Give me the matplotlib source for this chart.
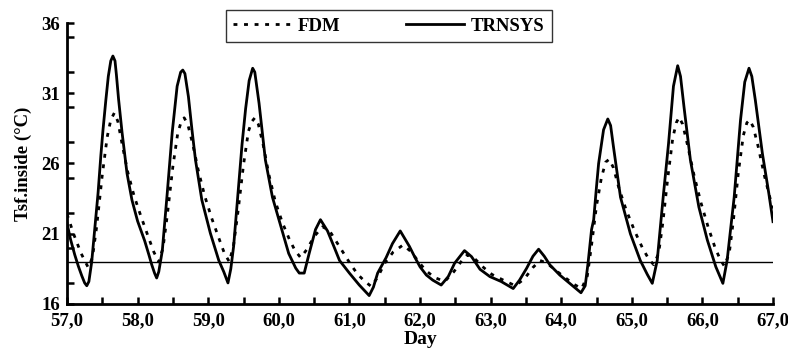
import matplotlib
matplotlib.use("Agg")
import matplotlib.pyplot as plt
from matplotlib.ticker import MultipleLocator

plt.rcParams['font.family'] = ['Liberation Serif', 'DejaVu Serif']
plt.rcParams['font.weight'] = 'bold'

# TRNSYS (solid) series
trn_day = [57.00, 57.05, 57.11, 57.16, 57.21, 57.25, 57.28, 57.31, 57.35, 57.40, 57.44, 57.48, 57.51, 57.55, 57.585, 57.62, 57.65, 57.68, 57.70, 57.73, 57.78, 57.85, 57.92, 58.00, 58.10, 58.16, 58.20, 58.24, 58.27, 58.30, 58.35, 58.42, 58.49, 58.56, 58.61, 58.64, 58.67, 58.72, 58.77, 58.82, 58.91, 59.03, 59.15, 59.22, 59.28, 59.32, 59.36, 59.43, 59.48, 59.53, 59.58, 59.63, 59.66, 59.72, 59.81, 59.91, 60.03, 60.14, 60.24, 60.29, 60.36, 60.43, 60.52, 60.59, 60.69, 60.78, 60.86, 61.00, 61.14, 61.28, 61.34, 61.40, 61.52, 61.61, 61.72, 61.85, 61.93, 62.00, 62.09, 62.18, 62.30, 62.40, 62.49, 62.63, 62.73, 62.85, 62.99, 63.15, 63.32, 63.41, 63.51, 63.60, 63.68, 63.76, 63.84, 63.98, 64.12, 64.28, 64.34, 64.38, 64.43, 64.46, 64.50, 64.53, 64.60, 64.66, 64.70, 64.74, 64.84, 64.98, 65.12, 65.22, 65.29, 65.36, 65.45, 65.52, 65.59, 65.65, 65.69, 65.74, 65.83, 65.95, 66.07, 66.19, 66.29, 66.35, 66.45, 66.54, 66.60, 66.66, 66.70, 66.75, 66.85, 66.94, 67.00]
trn_temp = [21.75, 20.6, 19.5, 18.7, 18.0, 17.5, 17.3, 17.6, 19.0, 21.7, 23.9, 26.6, 28.4, 30.5, 32.2, 33.3, 33.65, 33.3, 32.3, 30.6, 28.2, 25.3, 23.4, 21.9, 20.5, 19.5, 18.8, 18.2, 17.85, 18.3, 19.8, 23.9, 28.2, 31.5, 32.5, 32.65, 32.4, 30.75, 28.4, 26.25, 23.4, 21.05, 19.1, 18.3, 17.5, 18.5, 20.1, 24.4, 27.4, 29.9, 31.9, 32.78, 32.5, 30.3, 26.25, 23.6, 21.5, 19.6, 18.55, 18.2, 18.2, 19.6, 21.3, 22.0, 21.2, 20.1, 19.1, 18.2, 17.35, 16.6, 17.2, 18.2, 19.3, 20.3, 21.2, 20.1, 19.3, 18.65, 18.06, 17.7, 17.35, 17.95, 18.9, 19.8, 19.37, 18.47, 17.95, 17.6, 17.1, 17.7, 18.54, 19.4, 19.9, 19.4, 18.78, 18.06, 17.47, 16.8, 17.3, 18.9, 21.3, 22.0, 24.35, 26.0, 28.4, 29.17, 28.7, 27.2, 23.6, 21.0, 19.1, 18.1, 17.47, 19.1, 23.9, 27.4, 31.5, 32.96, 32.2, 30.0, 26.25, 22.9, 20.55, 18.65, 17.47, 19.1, 23.6, 29.1, 31.8, 32.78, 32.2, 30.5, 26.7, 23.9, 21.86]

# FDM (dotted) series
fdm_day = [57.00, 57.10, 57.20, 57.30, 57.36, 57.42, 57.50, 57.57, 57.62, 57.67, 57.72, 57.78, 57.86, 57.95, 58.05, 58.15, 58.23, 58.30, 58.36, 58.42, 58.50, 58.57, 58.62, 58.66, 58.71, 58.78, 58.86, 58.95, 59.05, 59.15, 59.23, 59.30, 59.36, 59.42, 59.50, 59.57, 59.62, 59.66, 59.71, 59.78, 59.86, 59.95, 60.05, 60.15, 60.23, 60.31, 60.40, 60.50, 60.62, 60.72, 60.82, 60.92, 61.02, 61.12, 61.22, 61.31, 61.40, 61.50, 61.62, 61.76, 61.88, 61.98, 62.08, 62.20, 62.35, 62.48, 62.58, 62.67, 62.78, 62.90, 63.02, 63.18, 63.35, 63.48, 63.60, 63.70, 63.80, 63.92, 64.05, 64.18, 64.29, 64.37, 64.43, 64.50, 64.57, 64.63, 64.68, 64.74, 64.82, 64.92, 65.04, 65.15, 65.24, 65.31, 65.38, 65.44, 65.51, 65.58, 65.63, 65.67, 65.72, 65.79, 65.88, 65.98, 66.08, 66.18, 66.25, 66.31, 66.38, 66.44, 66.51, 66.58, 66.63, 66.67, 66.72, 66.79, 66.88, 66.96, 67.00]
fdm_temp = [22.4, 20.9, 19.6, 18.6, 19.3, 21.5, 25.2, 27.9, 29.1, 29.6, 29.0, 27.4, 25.4, 23.7, 22.2, 20.8, 19.7, 19.0, 20.0, 22.3, 25.8, 28.2, 29.0, 29.25, 28.8, 27.4, 25.5, 23.7, 22.1, 20.7, 19.6, 19.0, 20.2, 22.5, 25.9, 28.3, 29.0, 29.25, 28.8, 27.3, 25.2, 23.3, 21.8, 20.6, 19.8, 19.3, 19.9, 20.8, 21.5, 21.2, 20.4, 19.6, 18.8, 18.1, 17.6, 17.25, 17.9, 18.9, 19.7, 20.2, 19.7, 19.0, 18.4, 17.9, 17.6, 18.3, 19.0, 19.5, 19.2, 18.6, 18.1, 17.7, 17.3, 17.8, 18.6, 19.1, 18.9, 18.4, 17.9, 17.4, 17.1, 18.0, 20.2, 23.0, 25.0, 26.1, 26.3, 25.7, 24.2, 22.7, 21.2, 20.0, 19.2, 18.8, 19.6, 21.8, 25.0, 27.8, 28.9, 29.3, 28.8, 27.3, 25.2, 23.2, 21.5, 20.0, 19.2, 18.7, 19.6, 22.0, 25.4, 28.0, 28.9, 29.1, 28.6, 27.2, 25.1, 23.5, 22.8]

ref_temp = 19.0

x_ticks = [57, 58, 59, 60, 61, 62, 63, 64, 65, 66, 67]
x_labels = ['57,0', '58,0', '59,0', '60,0', '61,0', '62,0', '63,0', '64,0', '65,0', '66,0', '67,0']
y_ticks = [16, 21, 26, 31, 36]

fig = plt.figure(figsize=(7.88, 3.59), dpi=100)
ax = fig.add_axes([67/788, 1-304/359, (773-67)/788, (304-23)/359])

ax.axhline(ref_temp, color='black', lw=1.0, zorder=1)
l1, = ax.plot(fdm_day, fdm_temp, color='black', lw=2.0, ls=(0, (1.4, 2.4)), label='FDM', zorder=2)
l2, = ax.plot(trn_day, trn_temp, color='black', lw=2.0, ls='-', label='TRNSYS', zorder=3)

ax.set_xlim(57, 67)
ax.set_ylim(16, 36)
ax.set_xticks(x_ticks)
ax.set_xticklabels(x_labels)
ax.set_yticks(y_ticks)
ax.xaxis.set_minor_locator(MultipleLocator(0.5))
ax.yaxis.set_minor_locator(MultipleLocator(2.5))

for s in ['top', 'right']:
    ax.spines[s].set_visible(False)
for s in ['left', 'bottom']:
    ax.spines[s].set_linewidth(2.0)

ax.tick_params(which='both', direction='in', length=5, width=1.8, labelsize=13.5)
ax.tick_params(axis='x', pad=6)
ax.tick_params(axis='y', pad=5)
for lab in ax.get_xticklabels() + ax.get_yticklabels():
    lab.set_fontweight('bold')

ax.set_xlabel('Day', fontsize=14, fontweight='bold', labelpad=1)
ax.set_ylabel('Tsf.inside (°C)', fontsize=13.5, fontweight='bold', labelpad=7)

leg = fig.legend(handles=[l1, l2], labels=['FDM', 'TRNSYS'], ncol=2,
                 loc='center', bbox_to_anchor=(389/788, 1-26/359),
                 frameon=True, fancybox=False, edgecolor='black',
                 prop={'weight': 'bold', 'size': 13.5}, handlelength=3.1,
                 columnspacing=3.5, borderpad=0.4, borderaxespad=0.0,
                 handletextpad=0.35)
leg.get_frame().set_linewidth(1.0)
leg._legend_box.sep = 0
fig.canvas.draw()
# widen frame slightly to match the reference box width
leg.set_bbox_to_anchor((389/788, 1-26/359))

fig.savefig('out.png', dpi=100)
